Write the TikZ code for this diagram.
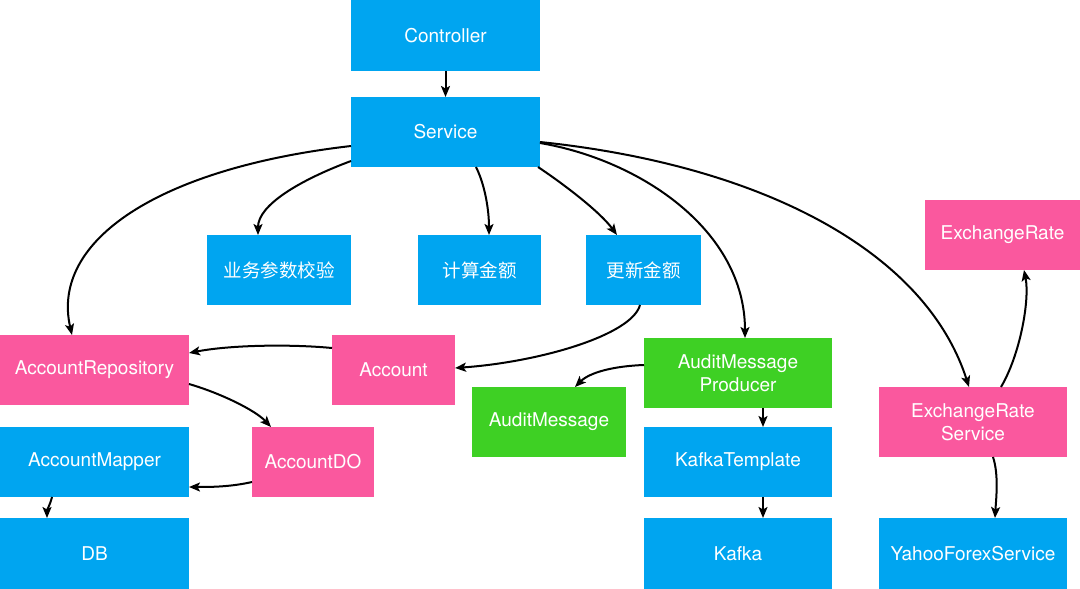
\documentclass[tikz,border=0pt]{standalone}
\usepackage{fontspec}
\setmainfont{TeX Gyre Heros}
\newfontfamily\cjk{Noto Sans CJK SC}
\usetikzlibrary{arrows.meta,calc}
\definecolor{bblue}{RGB}{0,165,240}
\definecolor{bpink}{RGB}{250,88,158}
\definecolor{bgreen}{RGB}{62,208,36}
\begin{document}
\begin{tikzpicture}[x=1pt,y=-1pt,
  box/.style={rectangle, inner sep=0pt, outer sep=0pt, text=white, align=center,
    font=\fontsize{19}{23}\selectfont},
  sz/.style 2 args={minimum width=#1pt, minimum height=#2pt},
  bluebox/.style={box, fill=bblue},
  pinkbox/.style={box, fill=bpink},
  greenbox/.style={box, fill=bgreen},
  cjkt/.style={font=\fontsize{18.5}{22}\selectfont\cjk},
  arr/.style={-{Stealth[length=11pt,width=9pt,inset=2.5pt]}, line width=2pt, black}]
\useasboundingbox (0,0) rectangle (1080,589);
\fill[white] (0,0) rectangle (1080,589);

% nodes
\node[bluebox, sz={189}{71}] (ctrl) at (445.5,35.5) {Controller};
\node[bluebox, sz={189}{70}] (svc) at (445.5,132) {Service};
\node[bluebox, sz={144}{70}, cjkt] (yw) at (279,270) {业务参数校验};
\node[bluebox, sz={123}{70}, cjkt] (js) at (479.5,270) {计算金额};
\node[bluebox, sz={115}{70}, cjkt] (gx) at (643.5,270) {更新金额};
\node[pinkbox, sz={155}{70}] (er) at (1002.5,235) {ExchangeRate};
\node[pinkbox, sz={189}{70}] (ar) at (94.5,370) {AccountRepository};
\node[pinkbox, sz={123}{70}] (acc) at (393.5,370) {Account};
\node[greenbox, sz={188}{70}] (amp) at (738,373) {AuditMessage\\Producer};
\node[greenbox, sz={154}{70}] (am) at (549,422) {AuditMessage};
\node[pinkbox, sz={188}{70}] (ers) at (973,422) {ExchangeRate\\Service};
\node[bluebox, sz={189}{70}] (amap) at (94.5,462) {AccountMapper};
\node[pinkbox, sz={122}{70}] (ado) at (313,462) {AccountDO};
\node[bluebox, sz={188}{70}] (kt) at (738,462) {KafkaTemplate};
\node[bluebox, sz={189}{71}] (db) at (94.5,553.5) {DB};
\node[bluebox, sz={188}{71}] (kafka) at (738,553.5) {Kafka};
\node[bluebox, sz={188}{71}] (yahoo) at (973,553.5) {YahooForexService};

% connectors
\draw[arr] (ctrl.south) -- (svc.north);
\draw[arr] ($(svc.north west)+(0,64)$) .. controls (300,180) and (258,205) .. ($(yw.north west)+(51,0)$);
\draw[arr] ($(svc.north west)+(0,49)$) .. controls (160,168) and (50,240) .. ($(ar.north west)+(72,0)$);
\draw[arr] ($(svc.north west)+(125,70)$) .. controls (485,185) and (489,210) .. ($(js.north west)+(71,0)$);
\draw[arr] ($(svc.north west)+(187,70)$) .. controls (565,185) and (600,212) .. ($(gx.north west)+(31,0)$);
\draw[arr] ($(svc.north west)+(189,46)$) .. controls (640,160) and (745,230) .. ($(amp.north west)+(101,0)$);
\draw[arr] ($(svc.north west)+(189,45)$) .. controls (760,165) and (925,250) .. ($(ers.north west)+(90,0)$);
\draw[arr] ($(gx.north west)+(54,70)$) .. controls (632,335) and (540,362) .. ($(acc.north west)+(123,33)$);
\draw[arr] ($(acc.north west)+(0,13)$) .. controls (290,344) and (230,345) .. ($(ar.north west)+(189,18)$);
\draw[arr] ($(ar.north west)+(189,49)$) .. controls (220,393) and (255,410) .. ($(ado.north west)+(19,0)$);
\draw[arr] ($(ado.north west)+(0,55)$) .. controls (230,487) and (210,487) .. ($(amap.north west)+(189,60)$);
\draw[arr] ($(amap.north west)+(52,70)$) .. controls (50,505) and (47,510) .. ($(db.north west)+(47,0)$);
\draw[arr] ($(amp.north west)+(0,27)$) .. controls (615,366) and (590,372) .. ($(am.north west)+(103,0)$);
\draw[arr] ($(amp.north west)+(119,70)$) -- ($(kt.north west)+(119,0)$);
\draw[arr] ($(kt.north west)+(119,70)$) -- ($(kafka.north west)+(119,0)$);
\draw[arr] ($(ers.north west)+(122,0)$) .. controls (1020,355) and (1030,300) .. ($(er.north west)+(99,70)$);
\draw[arr] ($(ers.north west)+(114,70)$) .. controls (999,475) and (996,500) .. ($(yahoo.north west)+(116,0)$);
\end{tikzpicture}
\end{document}
